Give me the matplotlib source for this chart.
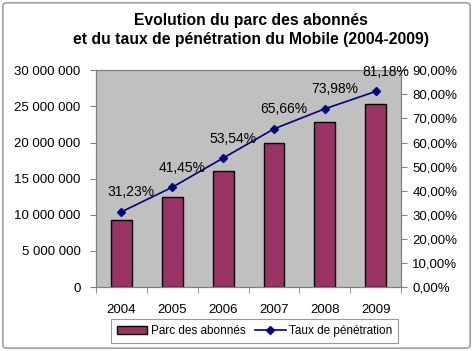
import numpy as np
import matplotlib.pyplot as plt
from matplotlib.patches import FancyBboxPatch
from matplotlib.ticker import FuncFormatter, FixedLocator

plt.rcParams['font.family'] = ['Liberation Sans', 'DejaVu Sans']

# Data
years = ['2004', '2005', '2006', '2007', '2008', '2009']
abonnes = [9350000, 12450000, 16000000, 20000000, 22800000, 25300000]
taux = [31.23, 41.45, 53.54, 65.66, 73.98, 81.18]
taux_labels = ['31,23%', '41,45%', '53,54%', '65,66%', '73,98%', '81,18%']

fig = plt.figure(figsize=(4.73, 3.51), dpi=100)

# outer frame
frame = FancyBboxPatch((0.006, 0.008), 0.988, 0.984, transform=fig.transFigure,
                       boxstyle="round,pad=0,rounding_size=0.01",
                       facecolor='none', edgecolor='#a0a0a0', linewidth=1.2)
fig.patches.append(frame)

ax = fig.add_axes([0.203, 0.182, 0.645, 0.618])
ax.set_facecolor('#c0c0c0')
x = np.arange(len(years))
ax.bar(x, abonnes, width=0.41, color='#993366', edgecolor='black', linewidth=1.0,
       label='Parc des abonnés', zorder=2)
ax.set_xlim(-0.5, len(years) - 0.5)
ax.set_ylim(0, 30000000)
ax.set_yticks(np.arange(0, 30000001, 5000000))
ax.yaxis.set_major_formatter(FuncFormatter(lambda v, p: f"{int(v):,}".replace(',', ' ')))
ax.set_xticks(x)
ax.set_xticklabels(years)
ax.xaxis.set_minor_locator(FixedLocator(np.arange(-0.5, len(years), 1)))
ax.tick_params(axis='x', which='major', length=0, pad=12, labelsize=9.5)
ax.tick_params(axis='x', which='minor', length=4, color='#808080')
ax.tick_params(axis='y', length=4, color='#808080', labelsize=9.5, pad=7)
for s in ax.spines.values():
    s.set_color('#808080')

ax2 = ax.twinx()
ax2.plot(x, taux, color='#000080', marker='D', markersize=4, linewidth=1.2,
         label='Taux de pénétration')
ax2.set_ylim(0, 90)
ax2.set_yticks(np.arange(0, 91, 10))
ax2.yaxis.set_major_formatter(FuncFormatter(lambda v, p: f"{v:.2f}".replace('.', ',') + '%'))
ax2.tick_params(axis='y', length=4, color='#808080', labelsize=9.5, pad=4)
for s in ax2.spines.values():
    s.set_color('#808080')

for xi, yi, lab in zip(x, taux, taux_labels):
    ax2.annotate(lab, (xi, yi), xytext=(7, 14), textcoords='offset points',
                 ha='center', va='center', fontsize=10, color='black')

fig.text(0.531, 0.915, 'Evolution du parc des abonnés\net du taux de pénétration du Mobile (2004-2009)',
         ha='center', va='center', fontsize=11.3, fontweight='bold', linespacing=1.3)

h1, l1 = ax.get_legend_handles_labels()
h2, l2 = ax2.get_legend_handles_labels()
leg = fig.legend(h1 + h2, l1 + l2, loc='center', bbox_to_anchor=(0.538, 0.057), ncol=2,
                 fontsize=8.5, frameon=True, fancybox=False, edgecolor='#808080',
                 handlelength=2.6, handletextpad=0.3, columnspacing=0.8,
                 borderpad=0.5)
leg.get_frame().set_linewidth(0.8)

fig.savefig('out.png', dpi=100)
